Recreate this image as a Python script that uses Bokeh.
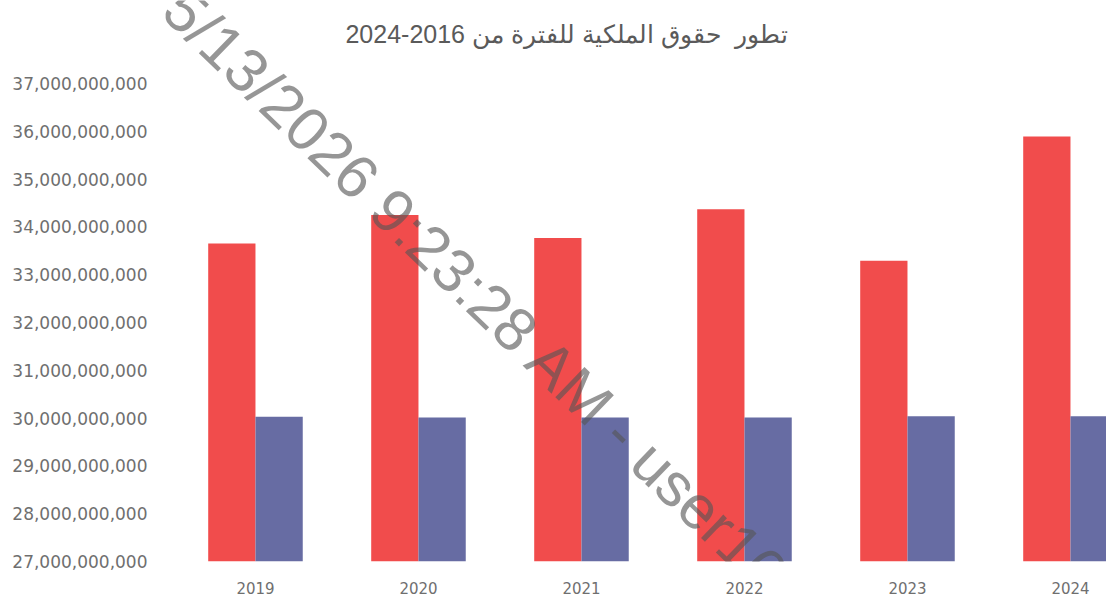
from bokeh.plotting import figure
from bokeh.models import (FixedTicker, NumeralTickFormatter, Label, Range1d,
                          ColumnDataSource)
from bokeh.transform import dodge
from bokeh.embed import file_html
from bokeh.resources import INLINE

# ---- data ----
years = ["2019", "2020", "2021", "2022", "2023", "2024"]
equity_red = [33.65e9, 34.25e9, 33.77e9, 34.37e9, 33.29e9, 35.89e9]
equity_blue = [30.03e9, 30.01e9, 30.01e9, 30.01e9, 30.04e9, 30.04e9]
y_ticks = [27e9, 28e9, 29e9, 30e9, 31e9, 32e9, 33e9, 34e9, 35e9, 36e9, 37e9]
title_text = "تطور\u00a0 حقوق الملكية للفترة من 2016-2024"
watermark_text = "5/13/2026 9:23:28 AM - user16"

RED = "#f14c4c"
BLUE = "#676ca3"
GREY = "#6f6f6f"

idx = list(range(len(years)))
base = y_ticks[0]
src = ColumnDataSource(dict(x=idx, red=equity_red, blue=equity_blue,
                            base=[base] * len(idx)))

p = figure(width=1106, height=600, title=None,
           x_range=Range1d(-0.552, 5.221), y_range=Range1d(27e9, 38.736e9),
           output_backend="svg", toolbar_location=None,
           min_border_left=165, min_border_right=0,
           min_border_top=0, min_border_bottom=39)
p.outline_line_color = None
p.background_fill_color = "white"
p.border_fill_color = "white"
p.xgrid.visible = False
p.ygrid.visible = False

bw = 0.29
p.vbar(x=dodge("x", -bw / 2, range=p.x_range), top="red", bottom="base",
       width=bw, source=src, fill_color=RED, line_color=None)
p.vbar(x=dodge("x", bw / 2, range=p.x_range), top="blue", bottom="base",
       width=bw, source=src, fill_color=BLUE, line_color=None)

# y axis
p.yaxis.ticker = FixedTicker(ticks=y_ticks)
p.yaxis.formatter = NumeralTickFormatter(format="0,0")
p.yaxis.axis_line_color = None
p.yaxis.major_tick_line_color = None
p.yaxis.minor_tick_line_color = None
p.yaxis.major_tick_out = 0
p.yaxis.major_tick_in = 0
p.yaxis.major_label_standoff = 18
p.yaxis.major_label_text_font = "DejaVu Sans"
p.yaxis.major_label_text_font_size = "17px"
p.yaxis.major_label_text_color = GREY

# x axis
p.xaxis.ticker = FixedTicker(ticks=idx)
p.xaxis.major_label_overrides = {i: y for i, y in zip(idx, years)}
p.xaxis.axis_line_color = None
p.xaxis.major_tick_line_color = None
p.xaxis.minor_tick_line_color = None
p.xaxis.major_tick_out = 0
p.xaxis.major_tick_in = 0
p.xaxis.major_label_standoff = 20
p.xaxis.major_label_text_font = "DejaVu Sans"
p.xaxis.major_label_text_font_size = "15px"
p.xaxis.major_label_text_color = GREY

# chart title (inside the frame, above the bars)
title = Label(x=0.552, y=38.03e9, text=title_text,
              text_font="Liberation Sans", text_font_size="25px",
              text_color="#5a5a5a", text_align="left",
              text_baseline="middle")
p.add_layout(title)

# scanned-document watermark
wm = Label(x=-0.503, y=38.757e9, text=watermark_text, angle=-44,
           angle_units="deg", text_font="Liberation Sans",
           text_font_size="61px", text_color="#555555", text_alpha=0.62,
           text_align="left", text_baseline="middle")
p.add_layout(wm)

open("out.html", "w").write(file_html(p, INLINE))
